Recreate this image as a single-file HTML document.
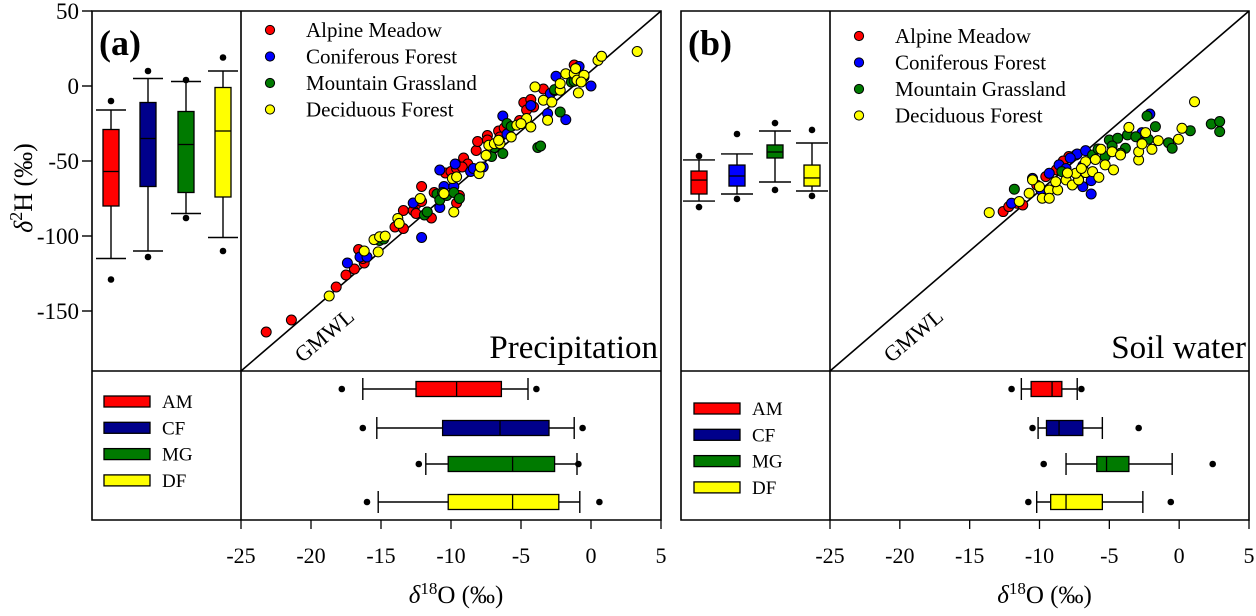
<!DOCTYPE html>
<html><head><meta charset="utf-8"><style>
html,body{margin:0;padding:0;background:#fff;}
svg{display:block;font-family:"Liberation Serif","DejaVu Serif",serif;}
</style></head><body>
<svg id="chart" width="1256" height="616" viewBox="0 0 1256 616" xmlns="http://www.w3.org/2000/svg"></svg>
<script>
// ---------- data ----------
const groups = ["AM","CF","MG","DF"];
const groupNames = ["Alpine Meadow","Coniferous Forest","Mountain Grassland","Deciduous Forest"];
const xTicks = [-25,-20,-15,-10,-5,0,5];
const yTicks = [50,0,-50,-100,-150];
// precipitation scatter (d18O, d2H)
const precAMx = [-23.2,-21.4,-18.2,-17.5,-16.9,-16.2,-16.6,-16.3,-14.0,-13.4,-13.4,-12.5,-12.7,-12.1,-12.5,-11.7,-11.4,-12.1,-11.2,-9.6,-9.4,-10.4,-10.0,-9.6,-9.1,-8.8,-9.2,-8.2,-8.1,-7.4,-7.4,-6.6,-6.5,-6.2,-5.1,-4.8,-4.3,-4.1,-4.6,-3.4,-1.2];
const precAMy = [-164,-156,-134,-126,-122,-118,-109,-115,-94,-95,-83,-79,-83,-77,-85,-84,-88,-67,-71,-78,-73,-58,-57,-55,-48,-52,-54,-43,-37,-33,-36,-30,-34,-28,-23,-11,-9,-14,-16,-2,14];
const precCFx = [-17.4,-16.5,-16.0,-12.1,-12.7,-10.8,-10.5,-9.8,-10.8,-9.7,-8.6,-8.4,-7.7,-6.3,-6.0,-4.3,-2.9,-2.5,-2.6,-3.1,-1.8,-0.85,0,-0.5];
const precCFy = [-118,-114,-114,-101,-78,-81,-67,-67,-56,-52,-57,-55,-54,-20,-32,-13,-5,6.5,-3,-18.4,-22.4,13,0,6];
const precMGx = [-15.1,-14.8,-11.9,-11.7,-11.0,-10.6,-10.8,-10.3,-9.8,-9.4,-7.1,-6.3,-6.0,-5.7,-3.8,-3.6,-2.6,-2.2,-1.4,-1.2,-6.9];
const precMGy = [-103,-102,-86,-84,-72,-71,-76,-73,-71,-75,-47,-45,-25,-27,-41,-40,-2.4,-17.3,2.7,3.2,-41];
const precDFx = [-18.7,-15.5,-15.1,-14.7,-15.2,-16.2,-13.8,-13.7,-12.2,-10.5,-9.8,-9.9,-9.6,-8.0,-7.9,-7.5,-7.3,-6.9,-6.5,-6.6,-5.7,-5.3,-4.6,-4.3,-4.0,-3.4,-3.1,-2.8,-2.2,-1.8,-1.2,-1.1,-1.0,-0.5,-0.9,-0.7,0.5,0.75,3.3,-2.2,-5.0];
const precDFy = [-140,-102.4,-100.5,-100.1,-110.6,-110,-88.3,-91.6,-75,-71.7,-84,-61.7,-60.6,-58.4,-54,-46.2,-39.5,-38.4,-38.4,-36.2,-34,-26.1,-21.7,-27.3,-0.6,-9.5,-22.8,-10.7,-2.8,8.2,8.2,11.6,3.9,7.2,-4.6,2.7,17.1,19.8,23,1.6,-25.1];
// soil water scatter
const soilAMx = [-12.6,-12.2,-11.6,-11.2,-7.9,-8.8,-9.55,-7.4,-10.2,-8.3];
const soilAMy = [-83.7,-80.4,-78.2,-79.3,-47,-55.9,-60.4,-46,-66,-50];
const soilCFx = [-12.0,-10.5,-9.3,-8.6,-7.3,-6.7,-6.9,-6.3,-6.3,-6.9,-2.66,-2.1,-9.9,-7.8,-8.1];
const soilCFy = [-78.2,-61.6,-58.2,-52.6,-45.3,-43.1,-53.2,-63.1,-72,-67.1,-31.1,-18.7,-69.3,-48,-55];
const soilMGx = [-11.8,-5.3,-5.0,-4.4,-3.85,-3.7,-3.1,-2.66,-2.2,-2.3,-1.7,-0.76,-0.5,0.8,2.3,2.9,2.9,-6.2,-4.2,-7.2,-8.4,-5.8,-4.8];
const soilMGy = [-68.8,-47,-36,-34.8,-41.5,-32.6,-33.8,-38.2,-35.5,-20,-27.1,-37.8,-41.5,-29.8,-25.3,-23.7,-30.4,-46,-44.8,-60.9,-57.1,-42,-40];
const soilDFx = [-13.6,-11.45,-10.74,-10.0,-9.8,-9.3,-8.7,-8.1,-7.65,-7.2,-6.7,-6.2,-5.75,-5.3,-4.7,-6.7,-5.6,-4.8,-3.6,-2.9,-2.9,-2.66,-2.4,-1.95,-1.5,-0.05,0.2,1.1,-8.84,-7.4,-9.3,-10.5,-8.0,-6.0,-4.2,-7.0];
const soilDFy = [-84.4,-77,-71.5,-67.1,-74.8,-69.3,-69.3,-62.6,-66,-62.6,-57.7,-57.1,-60.9,-52.6,-55.9,-50.4,-42.2,-43.8,-27.6,-49.3,-43.8,-38.6,-31.1,-42.2,-36.4,-35.5,-28.2,-10.5,-63.8,-58.2,-74.8,-62.6,-58,-49,-46,-55];
// d2H box stats [lowOut, lowWhisk, q1, median, q3, highWhisk, highOut]
const precH = [[-129,-115,-80,-57,-29,-16,-10],[-114,-110,-67,-35,-11,5,10],[-88,-85,-71,-39,-17,3,4],[-110,-101,-74,-30,-1,10,19]];
const soilH = [[-80.7,-76.7,-72,-62.7,-56.7,-49.3,-46.7],[-75.3,-72,-66.7,-60,-52.7,-45.3,-32],[-69.3,-64,-48,-44,-39.3,-30,-24.7],[-73.3,-70,-66.7,-61.3,-52.7,-38,-29.3]];
// d18O box stats
const precO = [[-17.8,-16.3,-12.5,-9.6,-6.4,-4.5,-3.9],[-16.3,-15.3,-10.6,-6.5,-3.0,-1.2,-0.6],[-12.3,-11.8,-10.2,-5.6,-2.6,-1.0,-0.9],[-16.0,-15.2,-10.2,-5.6,-2.3,-0.8,0.6]];
const soilO = [[-12.0,-11.3,-10.6,-9.1,-8.4,-7.3,-7.0],[-10.5,-10.1,-9.5,-8.6,-6.9,-5.5,-2.9],[-9.7,-8.1,-5.9,-5.2,-3.6,-0.5,2.4],[-10.8,-10.2,-9.2,-8.1,-5.5,-2.6,-0.6]];

const scatterCols = ["#ff0000","#0000ff","#007a00","#ffff00"];
const boxColsA = ["#ff0000","#00008b","#007a00","#ffff00"];
const boxColsB = ["#ff0000","#0000ff","#007a00","#ffff00"];
const bottomCols = ["#ff0000","#00008b","#007a00","#ffff00"];

const svg = document.getElementById('chart');
const NS = "http://www.w3.org/2000/svg";
function el(tag, attrs, parent, text){
  const e = document.createElementNS(NS, tag);
  for (const k in attrs) e.setAttribute(k, attrs[k]);
  if (text !== undefined) e.textContent = text;
  (parent||svg).appendChild(e);
  return e;
}
const T = 11, DIV = 371, BOT = 520;
const yv = v => T + (50 - v) * 1.5;
function makePanel(p){
  const xs = v => p.x0 + (v + 25) * (p.x1 - p.x0) / 30;
  const g = el('g', {});
  
  
  const fr = el('path', {d:`M${p.left},${T}H${p.x1}V${BOT}H${p.left}Z M${p.left},${DIV}H${p.x1} M${p.x0},${T}V${BOT}`, fill:'none', stroke:'#000', 'stroke-width':1.6}, g);
  
  
  const gl = el('line', {x1:xs(-25), y1:yv(-190), x2:xs(5), y2:yv(50), stroke:'#000', 'stroke-width':1.6}, g);
  
  
  const gt = el('text', {x:p.x0+88, y:DIV-30, 'font-size':22, transform:`rotate(-40 ${p.x0+88} ${DIV-30})`, 'text-anchor':'middle'}, g, 'GMWL');
  
  
  xTicks.forEach(t => {
    const tk = el('line', {x1:xs(t), x2:xs(t), y1:BOT, y2:BOT+9, stroke:'#000', 'stroke-width':1.3}, g);
    
    
    const tl = el('text', {x:xs(t), y:563, 'font-size':22, 'text-anchor':'middle'}, g, String(t));
    
    
  });
  const xt = el('text', {x:(p.x0+p.x1)/2+5, y:603, 'font-size':25, 'text-anchor':'middle'}, g);
  
  
  el('tspan', {'font-style':'italic'}, xt, 'δ');
  el('tspan', {'font-size':17, dy:-9}, xt, '18');
  el('tspan', {dy:9}, xt, 'O (‰)');
  const lt = el('text', {x:p.left+7, y:55, 'font-size':36, 'font-weight':'bold'}, g, p.letter);
  
  
  const tt = el('text', {x:p.x1-3, y:358, 'font-size':33, 'text-anchor':'end'}, g, p.title);
  
  
  const sets = [[p.sx[0],p.sy[0]],[p.sx[1],p.sy[1]],[p.sx[2],p.sy[2]],[p.sx[3],p.sy[3]]];
  sets.forEach((s,gi) => {
    s[0].forEach((xv,i) => {
      const c = el('circle', {cx:xs(xv), cy:yv(s[1][i]), r:5, fill:scatterCols[gi], stroke:'#000', 'stroke-width':1}, g);
      
      
    });
  });
  groupNames.forEach((n,i) => {
    const yy = p.legY + i*26.5;
    const m = el('circle', {cx:p.legMx, cy:yy, r:4.6, fill:scatterCols[i], stroke:'#000', 'stroke-width':1}, g);
    
    
    const lt2 = el('text', {x:p.legMx+36, y:yy+7, 'font-size':21}, g, n);
    
    
  });
  p.hStats.forEach((s,i) => {
    const cx = p.boxX[i], w = p.boxW, cw = p.capW;
    const bg = el('g', {}, g);
    
    
    el('line', {x1:cx, x2:cx, y1:yv(s[1]), y2:yv(s[5]), stroke:'#000', 'stroke-width':1.4}, bg);
    el('line', {x1:cx-cw/2, x2:cx+cw/2, y1:yv(s[1]), y2:yv(s[1]), stroke:'#000', 'stroke-width':1.4}, bg);
    el('line', {x1:cx-cw/2, x2:cx+cw/2, y1:yv(s[5]), y2:yv(s[5]), stroke:'#000', 'stroke-width':1.4}, bg);
    el('rect', {x:cx-w/2, y:yv(s[4]), width:w, height:yv(s[2])-yv(s[4]), fill:p.boxCols[i], stroke:'#000', 'stroke-width':1.3}, bg);
    el('line', {x1:cx-w/2, x2:cx+w/2, y1:yv(s[3]), y2:yv(s[3]), stroke:'#000', 'stroke-width':1.3}, bg);
    el('circle', {cx:cx, cy:yv(s[0]), r:3.3, fill:'#000'}, bg);
    el('circle', {cx:cx, cy:yv(s[6]), r:3.3, fill:'#000'}, bg);
  });
  const rowY = [389,428,464,502];
  p.oStats.forEach((s,i) => {
    const cy = rowY[i], h = 15, ch = 22;
    const bg = el('g', {}, g);
    
    
    el('line', {x1:xs(s[1]), x2:xs(s[5]), y1:cy, y2:cy, stroke:'#000', 'stroke-width':1.4}, bg);
    el('line', {x1:xs(s[1]), x2:xs(s[1]), y1:cy-ch/2, y2:cy+ch/2, stroke:'#000', 'stroke-width':1.4}, bg);
    el('line', {x1:xs(s[5]), x2:xs(s[5]), y1:cy-ch/2, y2:cy+ch/2, stroke:'#000', 'stroke-width':1.4}, bg);
    el('rect', {x:xs(s[2]), y:cy-h/2, width:xs(s[4])-xs(s[2]), height:h, fill:bottomCols[i], stroke:'#000', 'stroke-width':1.3}, bg);
    el('line', {x1:xs(s[3]), x2:xs(s[3]), y1:cy-h/2, y2:cy+h/2, stroke:'#000', 'stroke-width':1.3}, bg);
    el('circle', {cx:xs(s[0]), cy:cy, r:3.3, fill:'#000'}, bg);
    el('circle', {cx:xs(s[6]), cy:cy, r:3.3, fill:'#000'}, bg);
  });
  groups.forEach((n,i) => {
    const yy = p.bLegY + i*26.3;
    const sw = el('rect', {x:p.bLegX, y:yy-5, width:46, height:11, fill:bottomCols[i], stroke:'#000', 'stroke-width':1.3}, g);
    
    
    const tx = el('text', {x:p.bLegX+58, y:yy+7, 'font-size':19}, g, n);
    
    
  });
}
makePanel({name:'panel-a-precipitation', left:92, x0:241, x1:661, letter:'(a)', title:'Precipitation',
  sx:[precAMx,precCFx,precMGx,precDFx], sy:[precAMy,precCFy,precMGy,precDFy],
  legMx:270, legY:30, hStats:precH, boxX:[111,148,186,223], boxW:16, capW:30, boxCols:boxColsA,
  oStats:precO, bLegX:104, bLegY:401});
makePanel({name:'panel-b-soil-water', left:681, x0:830, x1:1249, letter:'(b)', title:'Soil water',
  sx:[soilAMx,soilCFx,soilMGx,soilDFx], sy:[soilAMy,soilCFy,soilMGy,soilDFy],
  legMx:859, legY:36, hStats:soilH, boxX:[699,737,775,812], boxW:16, capW:32, boxCols:boxColsB,
  oStats:soilO, bLegX:694, bLegY:408});
yTicks.forEach(t => {
  const tk = el('line', {x1:82, x2:92, y1:yv(t), y2:yv(t), stroke:'#000', 'stroke-width':1.4});
  
  
  const tl = el('text', {x:79, y:yv(t)+8, 'font-size':23, 'text-anchor':'end'}, svg, String(t));
  
  
});
const yt = el('text', {x:0, y:0, 'font-size':26, 'text-anchor':'middle', transform:'translate(32,188) rotate(-90)'});


el('tspan', {'font-style':'italic'}, yt, 'δ');
el('tspan', {'font-size':18, dy:-10}, yt, '2');
el('tspan', {dy:10}, yt, 'H (‰)');
</script>
</body></html>
